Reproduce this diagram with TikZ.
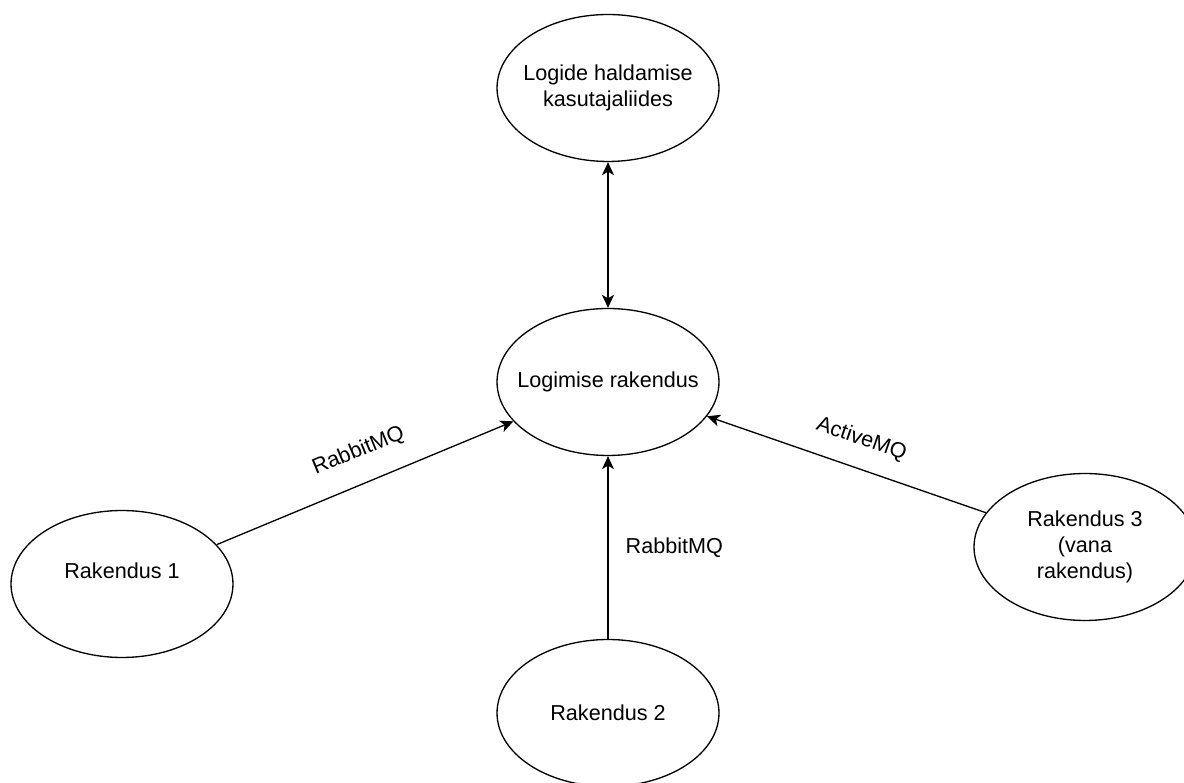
\documentclass[tikz,border=0pt]{standalone}
\usepackage{fontspec}
\setmainfont{Liberation Sans}
\usetikzlibrary{arrows.meta,positioning,shapes.geometric}

\begin{document}
\begin{tikzpicture}[
    x=0.02cm,y=-0.02cm,
    appnode/.style={draw=black, ellipse, line width=0.75pt, minimum width=4.44cm, minimum height=2.94cm, inner xsep=-0.6cm, inner ysep=-0.3cm, align=center, font=\fontsize{12.3}{14.8}\selectfont},
    edge/.style={-{Stealth[length=0.26cm,width=0.24cm,inset=0.07cm]}, draw=black, line width=0.75pt},
    both/.style={{Stealth[length=0.26cm,width=0.24cm,inset=0.07cm]}-{Stealth[length=0.26cm,width=0.24cm,inset=0.07cm]}, draw=black, line width=0.75pt},
    lbl/.style={font=\fontsize{12.3}{14.8}\selectfont, inner sep=0pt}
  ]
    \useasboundingbox (0,0) rectangle (1184,783);

    \node[appnode] (ui) at (608,88) {Logide haldamise\\kasutajaliides};
    \node[appnode] (log) at (608,382) {Logimise rakendus};
    \node[appnode] (r1) at (122,584) {Rakendus 1\\~};
    \node[appnode] (r2) at (608,713) {Rakendus 2};
    \node[appnode] (r3) at (1085,547) {Rakendus 3\\(vana\\rakendus)};

    \draw[both] (ui) -- (log);
    \draw[edge] (r1) -- node[lbl, pos=0.52, sloped, above=0.43cm] {RabbitMQ} (log);
    \draw[edge] (r2) -- node[lbl, pos=0.5, right=0.34cm] {RabbitMQ} (log);
    \draw[edge] (r3) -- node[lbl, pos=0.48, sloped, above=0.36cm] {ActiveMQ} (log);
  \end{tikzpicture}
\end{document}
